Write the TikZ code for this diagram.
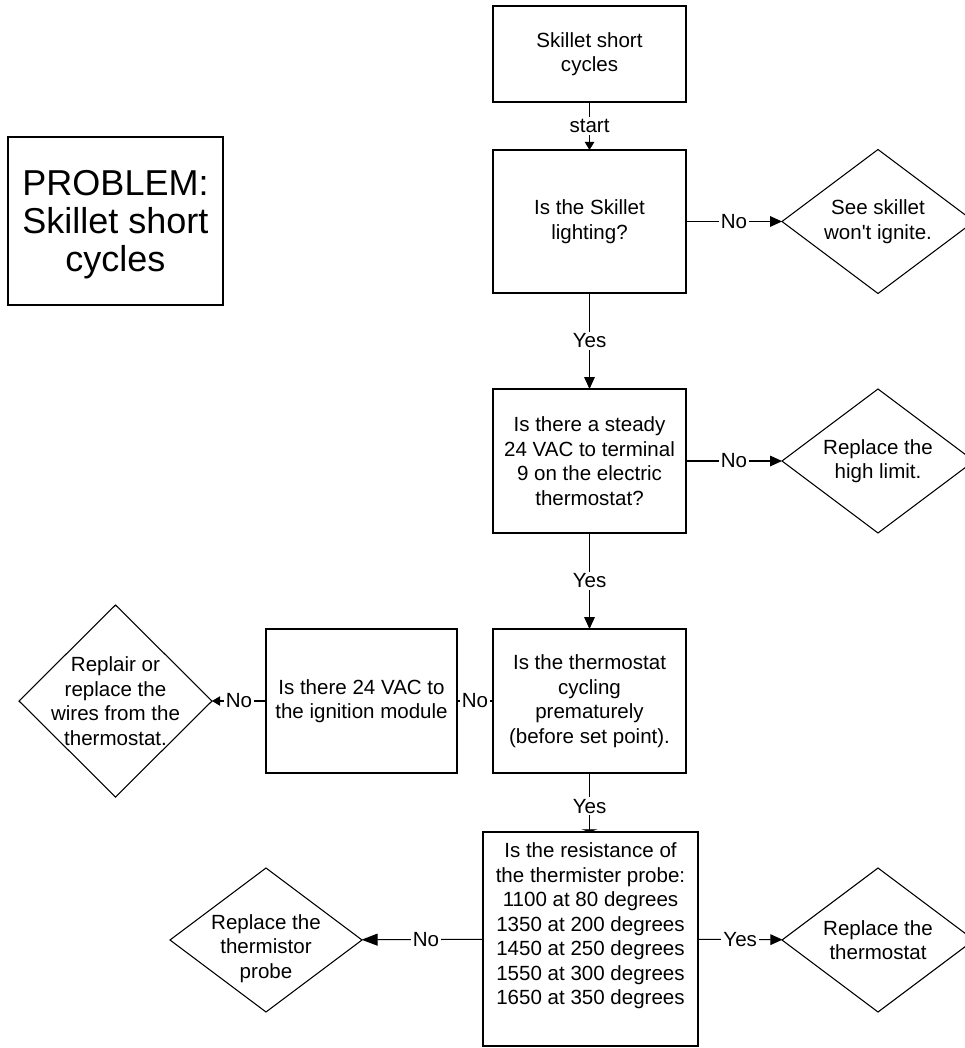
\documentclass[tikz,border=0pt]{standalone}
\usepackage{fontspec}
\setmainfont{Liberation Sans}
\usetikzlibrary{shapes.geometric,arrows.meta}
\begin{document}
\begin{tikzpicture}[x=0.75pt,y=-0.75pt,
  every node/.style={inner sep=0pt, outer sep=0pt},
  txt/.style={font=\fontsize{15.4}{18.4}\selectfont, align=center},
  box/.style={draw, line width=0.8pt, rectangle, txt},
  dia/.style={draw, line width=0.8pt, diamond, minimum width=192*0.75pt, minimum height=144*0.75pt},
  lbl/.style={txt, fill=white, inner sep=1.5pt},
  conn/.style={line width=0.8pt, -{Triangle[length=9pt,width=8pt]}},
  plain/.style={line width=0.8pt}
]
\useasboundingbox (0,0) rectangle (964,1048);

% problem box
\node[draw, line width=0.8pt, minimum width=215*0.75pt, minimum height=168*0.75pt,
      label={[align=center, font=\fontsize{27}{28.5}\selectfont, yshift=-3pt]center:PROBLEM:\\Skillet short\\cycles}] (prob) at (115.5,221) {};

% boxes
\node[box, minimum width=193*0.75pt, minimum height=96*0.75pt] (b1) at (589.5,54) {Skillet short\\cycles};
\node[box, minimum width=193*0.75pt, minimum height=143*0.75pt] (b2) at (589.5,221.5) {Is the Skillet\\lighting?};
\node[box, minimum width=193*0.75pt, minimum height=144*0.75pt] (b3) at (589.5,461) {Is there a steady\\24 VAC to terminal\\9 on the electric\\thermostat?};
\node[box, minimum width=193*0.75pt, minimum height=144*0.75pt] (b4) at (589.5,701) {Is the thermostat\\cycling\\prematurely\\(before set point).};
\node[box, minimum width=191*0.75pt, minimum height=144*0.75pt] (b5) at (361.5,701) {Is there 24 VAC to\\the ignition module};
\node[draw, line width=0.8pt, minimum width=215*0.75pt, minimum height=214*0.75pt,
      label={[txt, yshift=9.75pt]center:Is the resistance of\\the thermister probe:\\1100 at 80 degrees\\1350 at 200 degrees\\1450 at 250 degrees\\1550 at 300 degrees\\1650 at 350 degrees}] (b6) at (590.5,939) {};

% diamonds
\node[dia, label={[txt]center:See skillet\\won\textquotesingle t ignite.}] (d1) at (878,221.5) {};
\node[dia, label={[txt]center:Replace the\\high limit.}] (d2) at (878,461) {};
\node[dia, minimum width=193*0.75pt, minimum height=192*0.75pt, label={[txt]center:Replair or\\replace the\\wires from the\\thermostat.}] (d3) at (115.5,701) {};
\node[dia, label={[txt, yshift=-6.5pt]center:Replace the\\thermistor\\probe}] (d4) at (266,940) {};
\node[dia, label={[txt]center:Replace the\\thermostat}] (d5) at (878,940) {};

% connectors
\draw[conn, -{Triangle[length=6pt,width=7pt]}] (b1) -- node[lbl, pos=0.5]{start} (b2);
\draw[conn] (b2) -- node[lbl]{Yes} (b3);
\draw[conn] (b3) -- node[lbl]{Yes} (b4);
\draw[plain, -{Triangle[length=2pt,width=12pt]}] (b4.south) -- node[lbl, pos=0.56]{Yes} (b4.south |- b6.north);
\draw[conn] (b2) -- node[lbl]{No} (d1);
\draw[conn] (b3) -- node[lbl]{No} (d2);
\draw[plain] (b4) -- node[lbl]{No} (b5);
\draw[conn, -{Triangle[length=6pt,width=7pt]}] (b5) -- node[lbl]{No} (d3);
\draw[conn, -{Triangle[length=12pt,width=9pt]}] (b6) -- node[lbl, pos=0.47]{No} (d4);
\draw[conn] (b6) -- node[lbl]{Yes} (d5);
\end{tikzpicture}
\end{document}
